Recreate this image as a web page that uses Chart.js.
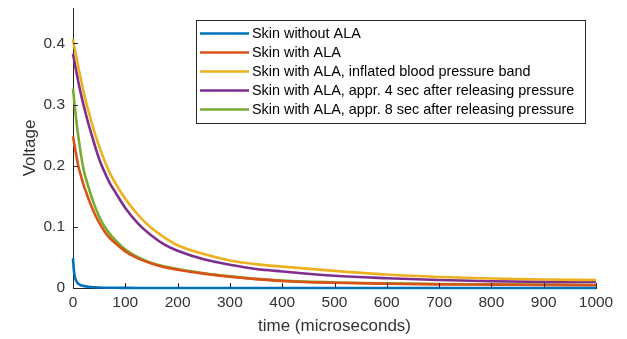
<!DOCTYPE html>
<html>
<head>
<meta charset="utf-8">
<script src="https://cdn.jsdelivr.net/npm/chart.js@4/dist/chart.umd.min.js"></script>
<style>
  html, body { margin: 0; padding: 0; background: #ffffff; }
  #wrap { width: 627px; height: 339px; }
</style>
</head>
<body>
<div id="wrap"><canvas id="chart" width="627" height="339"></canvas></div>
<script>
// Sample times (microseconds)
const timeUs = [0, 1, 2, 3, 5, 8, 10, 12, 15, 20, 25, 30, 40, 50, 60, 70, 80, 100,
  125, 150, 175, 200, 250, 300, 350, 400, 500, 600, 700, 800, 900, 1000];

// Measured voltage decay for each skin condition
const skinNoAla = [0.049, 0.036, 0.027, 0.021, 0.014, 0.009, 0.007, 0.006, 0.0045, 0.0035, 0.0027, 0.002, 0.0012, 0.0008, 0.0005, 0.0004, 0.0003, 0.0002,
  0.0001, 0.0001, 0, 0, 0, 0, 0, 0, 0, 0, 0, 0, 0, 0];
const skinAla = [0.248, 0.243, 0.238, 0.233, 0.223, 0.209, 0.200, 0.193, 0.184, 0.169, 0.157, 0.145, 0.124, 0.107, 0.093, 0.082, 0.074, 0.060,
  0.048, 0.040, 0.034, 0.030, 0.0235, 0.0185, 0.0145, 0.0115, 0.0085, 0.007, 0.006, 0.0055, 0.005, 0.0045];
const skinAlaBand = [0.407, 0.402, 0.397, 0.393, 0.384, 0.371, 0.362, 0.354, 0.342, 0.322, 0.304, 0.288, 0.258, 0.232, 0.209, 0.189, 0.173, 0.146,
  0.119, 0.098, 0.0825, 0.070, 0.0555, 0.045, 0.039, 0.035, 0.028, 0.022, 0.018, 0.0155, 0.014, 0.013];
const skinAla4s = [0.383, 0.378, 0.374, 0.369, 0.360, 0.347, 0.338, 0.330, 0.318, 0.300, 0.283, 0.267, 0.238, 0.211, 0.190, 0.172, 0.158, 0.131,
  0.105, 0.086, 0.071, 0.061, 0.047, 0.038, 0.031, 0.027, 0.020, 0.016, 0.013, 0.011, 0.010, 0.0098];
const skinAla8s = [0.326, 0.317, 0.309, 0.300, 0.284, 0.262, 0.249, 0.237, 0.219, 0.195, 0.178, 0.164, 0.138, 0.117, 0.101, 0.089, 0.079, 0.063,
  0.050, 0.041, 0.035, 0.031, 0.024, 0.019, 0.015, 0.012, 0.009, 0.0075, 0.0065, 0.006, 0.0055, 0.005];

const seriesLabels = [
  'Skin without ALA',
  'Skin with ALA',
  'Skin with ALA, inflated blood pressure band',
  'Skin with ALA, appr. 4 sec after releasing pressure',
  'Skin with ALA, appr. 8 sec after releasing pressure'
];
const seriesValues = [skinNoAla, skinAla, skinAlaBand, skinAla4s, skinAla8s];
const seriesColors = ['#0072BD', '#D95319', '#EDB120', '#7E2F8E', '#77AC30'];

const xTickStep = 100;
const yTickValues = [0, 0.1, 0.2, 0.3, 0.4];

const FONT = '"Liberation Sans", Arial, Helvetica, sans-serif';
const AXIS_COLOR = '#262626';
const TEXT_COLOR = '#333333';

function toPoints(values) {
  return values.map((v, i) => ({ x: timeUs[i], y: v }));
}

// Inward tick marks, MATLAB style
const innerTicks = {
  id: 'innerTicks',
  afterDatasetsDraw(chart) {
    const { ctx, chartArea, scales } = chart;
    ctx.save();
    ctx.strokeStyle = AXIS_COLOR;
    ctx.lineWidth = 1;
    ctx.beginPath();
    scales.x.ticks.forEach(t => {
      const px = Math.round(scales.x.getPixelForValue(t.value)) + 0.5;
      ctx.moveTo(px, chartArea.bottom);
      ctx.lineTo(px, chartArea.bottom - 5);
    });
    scales.y.ticks.forEach(t => {
      const py = Math.round(scales.y.getPixelForValue(t.value)) + 0.5;
      ctx.moveTo(chartArea.left, py);
      ctx.lineTo(chartArea.left + 5, py);
    });
    ctx.stroke();
    ctx.restore();
  }
};

// Boxed legend inside the axes
const boxLegend = {
  id: 'boxLegend',
  afterDraw(chart) {
    const { ctx } = chart;
    const box = { x: 196.5, y: 20.5, w: 389, h: 103 };
    const rowY0 = 33.5, rowStep = 19;
    ctx.save();
    ctx.fillStyle = '#ffffff';
    ctx.fillRect(box.x, box.y, box.w, box.h);
    ctx.strokeStyle = AXIS_COLOR;
    ctx.lineWidth = 1;
    ctx.strokeRect(box.x, box.y, box.w, box.h);
    ctx.font = '14.4px ' + FONT;
    ctx.textBaseline = 'middle';
    ctx.textAlign = 'left';
    chart.data.datasets.forEach((ds, i) => {
      const y = rowY0 + i * rowStep;
      ctx.strokeStyle = ds.borderColor;
      ctx.lineWidth = 2.6;
      ctx.beginPath();
      ctx.moveTo(200, y);
      ctx.lineTo(249, y);
      ctx.stroke();
      ctx.fillStyle = '#000000';
      ctx.fillText(ds.label, 252, y + 1);
    });
    ctx.restore();
  }
};

new Chart(document.getElementById('chart'), {
  type: 'line',
  data: {
    datasets: seriesValues.map((vals, i) => ({
      label: seriesLabels[i],
      data: toPoints(vals),
      borderColor: seriesColors[i],
      backgroundColor: seriesColors[i],
      borderWidth: 2.6,
      pointRadius: 0,
      fill: false,
      cubicInterpolationMode: 'monotone',
      clip: false
    }))
  },
  options: {
    responsive: false,
    animation: false,
    devicePixelRatio: 1,
    layout: { padding: { top: 8, right: 31, bottom: 0, left: 0 } },
    plugins: {
      legend: { display: false },
      tooltip: { enabled: false }
    },
    scales: {
      x: {
        type: 'linear',
        min: 0,
        max: 1000,
        grid: { display: false, drawTicks: false, tickLength: 0 },
        border: { display: true, color: AXIS_COLOR, width: 1 },
        ticks: {
          stepSize: xTickStep,
          padding: 5,
          maxRotation: 0,
          autoSkip: false,
          color: TEXT_COLOR,
          font: { family: FONT, size: 15.5 },
          callback: v => String(v)
        },
        title: {
          display: true,
          text: 'time (microseconds)',
          color: TEXT_COLOR,
          font: { family: FONT, size: 17 },
          padding: { top: 0, bottom: 2 }
        },
        afterFit(scale) {
          scale.height = 51;
          scale.paddingLeft = 0;
          scale.paddingRight = 0;
        }
      },
      y: {
        type: 'linear',
        min: 0,
        max: 0.458,
        grid: { display: false, drawTicks: false, tickLength: 0 },
        border: { display: true, color: AXIS_COLOR, width: 1 },
        afterBuildTicks(scale) {
          scale.ticks = yTickValues.map(v => ({ value: v }));
        },
        ticks: {
          padding: 8,
          color: TEXT_COLOR,
          font: { family: FONT, size: 15.5 },
          callback: v => String(v)
        },
        title: {
          display: true,
          text: 'Voltage',
          color: TEXT_COLOR,
          font: { family: FONT, size: 17 },
          padding: { top: 20, bottom: 0 }
        },
        afterFit(scale) {
          scale.width = 73;
          scale.paddingTop = 0;
          scale.paddingBottom = 0;
        }
      }
    }
  },
  plugins: [innerTicks, boxLegend]
});
</script>
</body>
</html>
